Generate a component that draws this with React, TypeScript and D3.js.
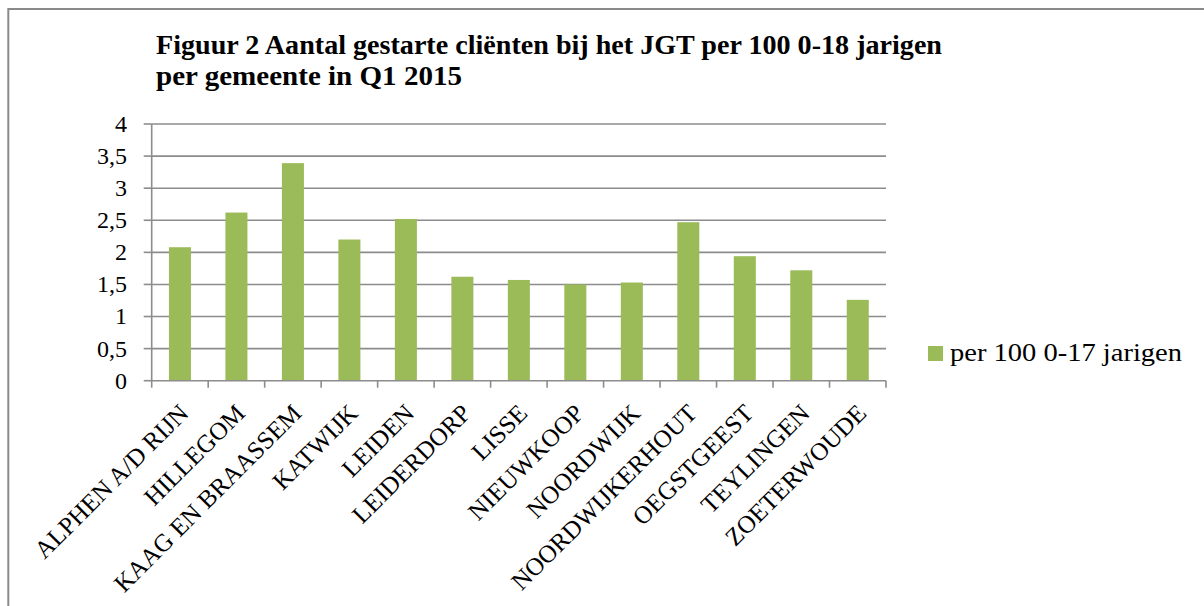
import React, { useEffect, useRef } from "react";
import * as d3 from "d3";

const categories = [
  "ALPHEN A/D RIJN",
  "HILLEGOM",
  "KAAG EN BRAASSEM",
  "KATWIJK",
  "LEIDEN",
  "LEIDERDORP",
  "LISSE",
  "NIEUWKOOP",
  "NOORDWIJK",
  "NOORDWIJKERHOUT",
  "OEGSTGEEST",
  "TEYLINGEN",
  "ZOETERWOUDE",
];
const values = [2.08, 2.62, 3.39, 2.2, 2.52, 1.62, 1.57, 1.5, 1.53, 2.47, 1.94, 1.72, 1.26];
const yTicks = [0, 0.5, 1, 1.5, 2, 2.5, 3, 3.5, 4];
const seriesName = "per 100 0-17 jarigen";
const titleLines = [
  "Figuur 2 Aantal gestarte cliënten bij het JGT per 100 0-18 jarigen",
  "per gemeente in Q1 2015",
];
const titleWidths = [786, 306];

const W = 1204;
const H = 606;
const FONT = "'Liberation Serif', 'DejaVu Serif', serif";

const App = () => {
  const ref = useRef<SVGSVGElement>(null);

  useEffect(() => {
    const svg = d3.select(ref.current);
    svg.selectAll("*").remove();

    const left = 151.7;
    const right = 886;
    const top = 124;
    const bottom = 380.7;
    const axisColor = "#8c8c8c";

    // outer frame, runs off the right and bottom edges
    svg.append("rect")
      .attr("x", 8.3).attr("y", 9)
      .attr("width", W + 20).attr("height", H + 20)
      .attr("fill", "#fff")
      .attr("stroke", "#8a8a8a")
      .attr("stroke-width", 2);

    // title
    svg.append("g")
      .selectAll("text")
      .data(titleLines)
      .enter()
      .append("text")
      .attr("x", 156)
      .attr("y", (_, i) => 54 + i * 31)
      .attr("font-family", FONT)
      .attr("font-weight", "bold")
      .attr("font-size", 28)
      .attr("fill", "#000")
      .attr("textLength", (_, i) => titleWidths[i])
      .attr("lengthAdjust", "spacingAndGlyphs")
      .text(d => d);

    const x = d3.scaleBand<string>()
      .domain(categories)
      .range([left, right])
      .paddingInner(0.61)
      .paddingOuter(0.305);

    const y = d3.scaleLinear().domain([0, 4]).range([bottom, top]);

    // gridlines
    svg.append("g")
      .selectAll("line")
      .data(yTicks.filter(t => t > 0))
      .enter()
      .append("line")
      .attr("x1", left).attr("x2", right)
      .attr("y1", d => y(d)).attr("y2", d => y(d))
      .attr("stroke", axisColor)
      .attr("stroke-width", 1.6);

    // bars
    svg.append("g")
      .selectAll("rect")
      .data(values)
      .enter()
      .append("rect")
      .attr("x", (_, i) => x(categories[i])!)
      .attr("y", d => y(d))
      .attr("width", x.bandwidth())
      .attr("height", d => bottom - y(d))
      .attr("fill", "#9bbb59");

    // y axis
    const yAxis = svg.append("g");
    yAxis.append("line")
      .attr("x1", left).attr("x2", left)
      .attr("y1", top).attr("y2", bottom)
      .attr("stroke", axisColor).attr("stroke-width", 1.6);
    yAxis.selectAll("line.tick")
      .data(yTicks)
      .enter()
      .append("line")
      .attr("class", "tick")
      .attr("x1", left - 8).attr("x2", left)
      .attr("y1", d => y(d)).attr("y2", d => y(d))
      .attr("stroke", axisColor).attr("stroke-width", 1.6);
    yAxis.selectAll("text")
      .data(yTicks)
      .enter()
      .append("text")
      .attr("x", 127)
      .attr("y", d => y(d))
      .attr("dy", "0.33em")
      .attr("text-anchor", "end")
      .attr("font-family", FONT)
      .attr("font-size", 24)
      .attr("fill", "#000")
      .text(d => String(d).replace(".", ","));

    // x axis
    const step = (right - left) / categories.length;
    const xAxis = svg.append("g");
    xAxis.append("line")
      .attr("x1", left).attr("x2", right)
      .attr("y1", bottom).attr("y2", bottom)
      .attr("stroke", axisColor).attr("stroke-width", 1.6);
    xAxis.selectAll("line.tick")
      .data(d3.range(categories.length + 1))
      .enter()
      .append("line")
      .attr("class", "tick")
      .attr("x1", i => left + i * step).attr("x2", i => left + i * step)
      .attr("y1", bottom).attr("y2", bottom + 7)
      .attr("stroke", axisColor).attr("stroke-width", 1.6);
    xAxis.selectAll("text")
      .data(categories)
      .enter()
      .append("text")
      .attr("transform", d => `translate(${x(d)! + x.bandwidth() / 2 + 10},${bottom + 34}) rotate(-45)`)
      .attr("text-anchor", "end")
      .attr("font-family", FONT)
      .attr("font-size", 25)
      .attr("fill", "#000")
      .text(d => d);

    // legend
    svg.append("rect")
      .attr("x", 928).attr("y", 346)
      .attr("width", 15).attr("height", 15)
      .attr("fill", "#9bbb59");
    svg.append("text")
      .attr("x", 950).attr("y", 361)
      .attr("font-family", FONT)
      .attr("font-size", 25)
      .attr("fill", "#000")
      .attr("textLength", 232)
      .attr("lengthAdjust", "spacingAndGlyphs")
      .text(seriesName);
  }, []);

  return (
    <svg
      ref={ref}
      width={W}
      height={H}
      style={{ position: "fixed", left: 0, top: 0, display: "block" }}
    ></svg>
  );
};

export default App;
